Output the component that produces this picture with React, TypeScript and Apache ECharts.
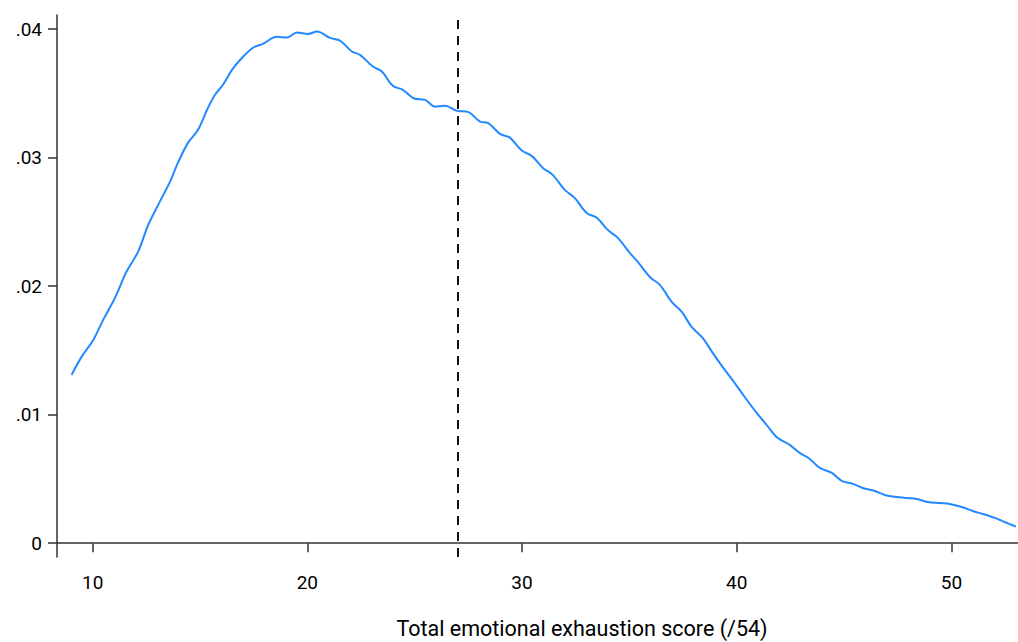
import React, { useEffect, useRef } from "react";
import * as echarts from "echarts";

const scoreValues = [
  9.02, 9.49, 10.03, 10.49, 11.04, 11.58, 12.12, 12.59, 13.13, 13.6, 13.97, 14.44, 14.91, 15.33, 15.7,
  16.07, 16.49, 16.96, 17.47, 17.93, 18.58, 19.05, 19.52, 20.03, 20.45, 21.05, 21.52, 22.08, 22.45,
  23.05, 23.47, 23.98, 24.45, 25.01, 25.48, 25.94, 26.41, 26.97, 27.48, 28.04, 28.41, 28.97, 29.43,
  29.99, 30.45, 30.97, 31.43, 31.99, 32.45, 33.01, 33.48, 33.99, 34.46, 35.02, 35.39, 35.95, 36.42,
  36.97, 37.44, 37.9, 38.41, 38.88, 39.34, 39.9, 40.37, 40.93, 41.39, 41.9, 42.47, 42.93, 43.4, 43.87,
  44.43, 44.89, 45.41, 45.87, 46.43, 46.9, 47.45, 47.92, 48.38, 48.9, 49.46, 49.92, 50.48, 50.99,
  51.46, 52.02, 52.48, 53.0,
];

const densityValues = [
  0.0131, 0.01452, 0.01582, 0.01738, 0.01909, 0.02114, 0.02269, 0.02477, 0.02658, 0.02812, 0.02959,
  0.03115, 0.03217, 0.03373, 0.03489, 0.03567, 0.03683, 0.03777, 0.03855, 0.03886, 0.0394, 0.03935,
  0.03974, 0.03963, 0.03981, 0.03932, 0.03911, 0.03826, 0.038, 0.03709, 0.0367, 0.03559, 0.03528,
  0.03458, 0.0345, 0.03398, 0.03403, 0.03364, 0.03356, 0.03281, 0.03271, 0.03185, 0.03156, 0.03055,
  0.03014, 0.0292, 0.02866, 0.02749, 0.02687, 0.0257, 0.02532, 0.02438, 0.02376, 0.02259, 0.02189,
  0.02072, 0.0201, 0.01878, 0.018, 0.01683, 0.01598, 0.01481, 0.01372, 0.01248, 0.01138, 0.01014,
  0.00921, 0.0082, 0.00765, 0.00703, 0.00656, 0.00586, 0.00547, 0.00485, 0.00462, 0.0043, 0.00407,
  0.00376, 0.0036, 0.00352, 0.00345, 0.00321, 0.00313, 0.00306, 0.00282, 0.00251, 0.00228, 0.00197,
  0.00165, 0.0013,
];

const xTickValues = [10, 20, 30, 40, 50];
const yTickValues = [0, 0.01, 0.02, 0.03, 0.04];
const meanLineValue = 27;
const xAxisTitle = "Total emotional exhaustion score (/54)";

export default function App() {
  const ref = useRef<HTMLDivElement>(null);

  useEffect(() => {
    document.body.style.margin = "0";
    if (!ref.current) return;
    const chart = echarts.init(ref.current, undefined, { renderer: "svg" });
    const axisColor = "#333333";
    const font = "Roboto, 'Noto Sans', sans-serif";
    chart.setOption({
      animation: false,
      backgroundColor: "#ffffff",
      grid: { left: 57, right: 0, top: 15, bottom: 85, containLabel: false },
      graphic: [
        {
          type: "text",
          x: 582,
          y: 628,
          style: {
            text: xAxisTitle,
            fontFamily: font,
            fontSize: 21.5,
            fill: "#000",
            align: "center",
            verticalAlign: "middle",
          },
        },
      ],
      xAxis: {
        type: "value",
        min: 8.34,
        max: 53.1,
        axisLine: { show: true, lineStyle: { color: axisColor, width: 1.5 } },
        axisTick: {
          show: true,
          length: 9,
          customValues: xTickValues,
          lineStyle: { color: axisColor, width: 1.5 },
        },
        axisLabel: {
          customValues: xTickValues,
          margin: 16,
          fontFamily: font,
          fontSize: 19,
          color: "#000",
        },
        splitLine: { show: false },
      },
      yAxis: {
        type: "value",
        min: -0.00107,
        max: 0.0411,
        axisLine: { show: true, lineStyle: { color: axisColor, width: 1.5 } },
        axisTick: {
          show: true,
          length: 9,
          customValues: yTickValues,
          lineStyle: { color: axisColor, width: 1.5 },
        },
        axisLabel: {
          customValues: yTickValues,
          margin: 15,
          fontFamily: font,
          fontSize: 19,
          color: "#000",
          formatter: (v: number) => (Math.abs(v) < 1e-9 ? "0" : v.toFixed(2).replace(/^0/, "")),
        },
        splitLine: { show: false },
      },
      series: [
        {
          type: "line",
          data: scoreValues.map((x, i) => [x, densityValues[i]]),
          smooth: 0.35,
          showSymbol: false,
          lineStyle: { color: "#2389ff", width: 2 },
          markLine: {
            silent: true,
            symbol: ["none", "none"],
            label: { show: false },
            lineStyle: { color: "#111", width: 2, type: [9, 7] },
            data: [{ xAxis: meanLineValue }],
          },
        },
      ],
    });
    return () => chart.dispose();
  }, []);

  return (
    <div
      ref={ref}
      style={{ position: "absolute", left: 0, top: 0, width: 1018, height: 642 }}
    />
  );
}
